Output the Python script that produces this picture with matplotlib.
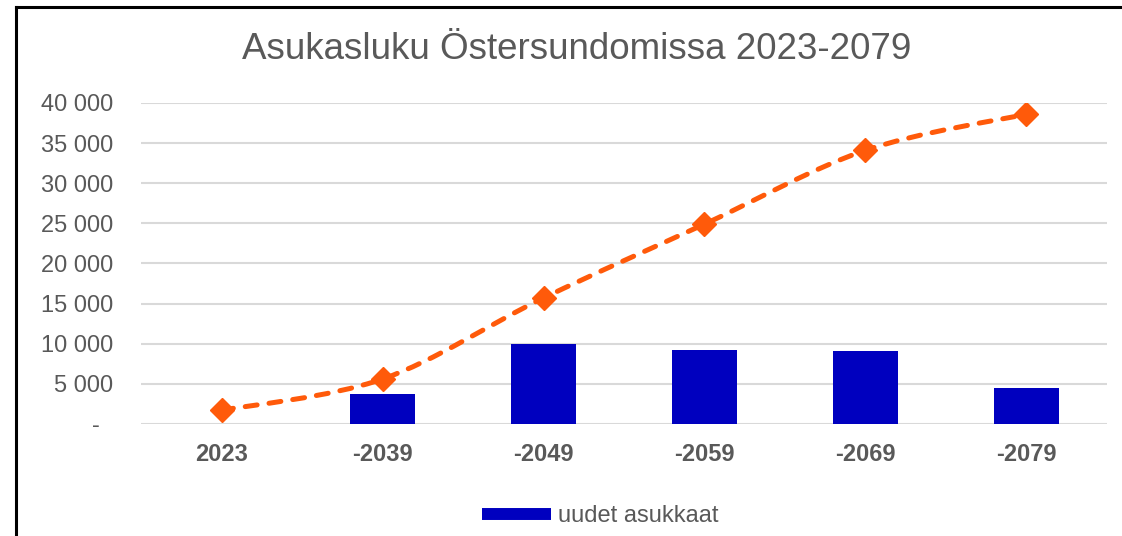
import matplotlib.pyplot as plt
from matplotlib.path import Path
from matplotlib.patches import PathPatch
from matplotlib.ticker import FuncFormatter
import matplotlib.lines as mlines

plt.rcParams["font.family"] = ["Liberation Sans", "DejaVu Sans"]

# data
categories = ["2023", "-2039", "-2049", "-2059", "-2069", "-2079"]
new_residents = [0, 3700, 10000, 9200, 9100, 4500]
population = [1700, 5600, 15700, 24900, 34100, 38600]

grey = "#595959"
bar_color = "#0000BF"
line_color = "#FF5A0A"

fig = plt.figure(figsize=(11.22, 5.36), dpi=100)
ax = fig.add_axes([0.1257, 0.209, 0.8609, 0.599])

x = list(range(len(categories)))
ax.bar(x, new_residents, width=0.4, color=bar_color, zorder=2)

# smooth curve (Excel-style bezier through the points)
verts = [(x[0], population[0])]
codes = [Path.MOVETO]
n = len(x)
for i in range(n - 1):
    p0 = (x[max(i - 1, 0)], population[max(i - 1, 0)])
    p1 = (x[i], population[i])
    p2 = (x[i + 1], population[i + 1])
    p3 = (x[min(i + 2, n - 1)], population[min(i + 2, n - 1)])
    c1 = (p1[0] + (p2[0] - p0[0]) / 6, p1[1] + (p2[1] - p0[1]) / 6)
    c2 = (p2[0] - (p3[0] - p1[0]) / 6, p2[1] - (p3[1] - p1[1]) / 6)
    verts += [c1, c2, p2]
    codes += [Path.CURVE4] * 3
curve = PathPatch(Path(verts, codes), facecolor="none", edgecolor=line_color,
                  lw=3.6, linestyle=(0, (2.4, 2.4)), capstyle="round", zorder=3)
ax.add_patch(curve)
ax.plot(x, population, linestyle="none", marker="D", markersize=12,
        color=line_color, zorder=4)

ax.set_xlim(-0.5, 5.5)
ax.set_ylim(0, 40000)
ax.set_yticks(range(0, 40001, 5000))


def fmt(v, pos):
    if v == 0:
        return "-  "
    return f"{int(v):,}".replace(",", " ")


ax.yaxis.set_major_formatter(FuncFormatter(fmt))
ax.set_xticks(x)
ax.set_xticklabels(categories, fontweight="bold")
ax.tick_params(axis="y", length=0, pad=20, labelsize=17, labelcolor=grey)
ax.tick_params(axis="x", length=0, pad=14, labelsize=17, labelcolor=grey)
ax.grid(axis="y", color="#D9D9D9", lw=1.5, zorder=0)
ax.set_axisbelow(True)
for s in ax.spines.values():
    s.set_visible(False)

fig.text(0.514, 0.908, "Asukasluku Östersundomissa 2023-2079", ha="center",
         va="center", fontsize=26.5, color=grey)

handle = mlines.Line2D([], [], color=bar_color, lw=8.6, solid_capstyle="butt")
fig.legend([handle], ["uudet asukkaat"], loc="center", bbox_to_anchor=(0.535, 0.037),
           frameon=False, fontsize=17, labelcolor=grey, handlelength=2.9,
           handletextpad=0.3)

# outer frame (top and left edges visible)
fig.add_artist(mlines.Line2D([0.0143, 1.0], [0.987, 0.987], color="black", lw=2.2,
                             transform=fig.transFigure))
fig.add_artist(mlines.Line2D([0.0143, 0.0143], [0.0, 0.987], color="black", lw=2.2,
                             transform=fig.transFigure))

fig.savefig("out.png", dpi=100)
